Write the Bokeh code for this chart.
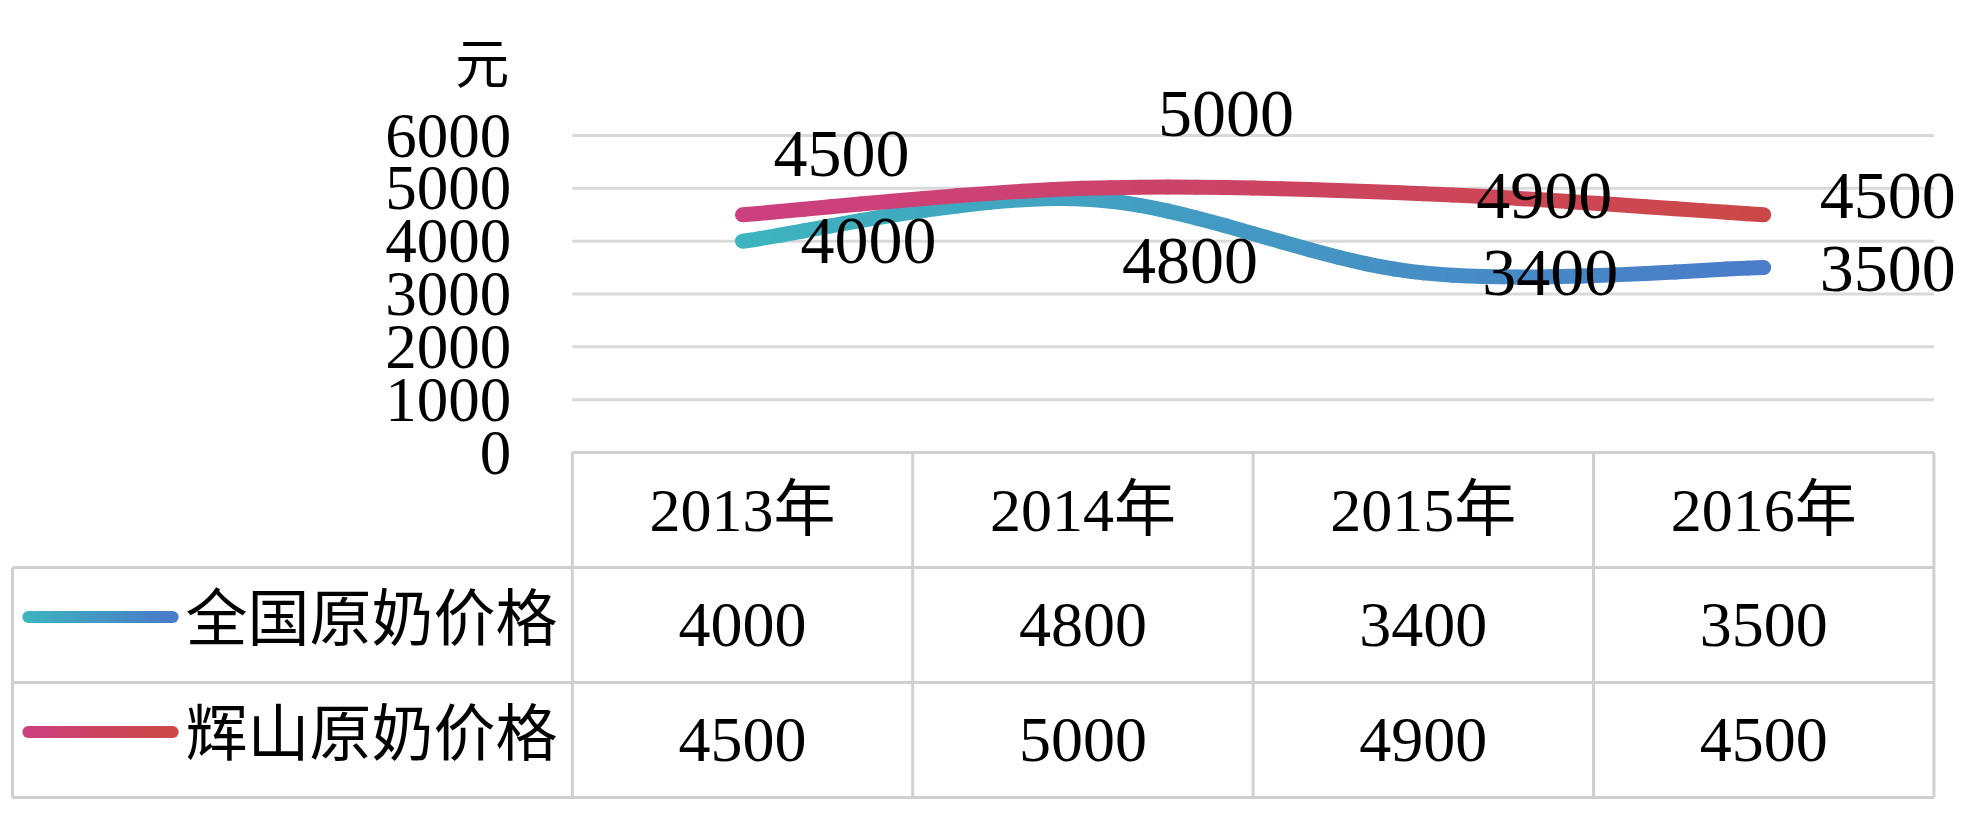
import numpy as np
from bokeh.plotting import figure
from bokeh.models import Range1d, FixedTicker, LinearAxis, ColumnDataSource
from bokeh.core.properties import value
from bokeh.embed import file_html
from bokeh.resources import INLINE

# ---------------- data ----------------
years = ["2013年", "2014年", "2015年", "2016年"]
series_names = ["全国原奶价格", "辉山原奶价格"]
national = [4000, 4800, 3400, 3500]
huishan = [4500, 5000, 4900, 4500]
y_ticks = [0, 1000, 2000, 3000, 4000, 5000, 6000]
unit_label = "元"

# ---------------- styles ----------------
FONT = "Liberation Serif, Noto Sans CJK SC"
grad_national = ("#3db4be", "#4a7cc8")
grad_huishan = ("#cc4080", "#cc4848")
GRID = "#d9d9d9"
BORDER = "#d0d0d0"

W, H = 1962, 810
x_idx = np.arange(len(years), dtype=float)


def lerp_color(c0, c1, t):
    a = [int(c0[i:i + 2], 16) for i in (1, 3, 5)]
    b = [int(c1[i:i + 2], 16) for i in (1, 3, 5)]
    return "#%02x%02x%02x" % tuple(int(round(a[k] + (b[k] - a[k]) * t)) for k in range(3))


def smooth_beziers(xs, ys, grad, n_sub=12):
    """Excel-like smoothed line: cubic Bezier per segment, subdivided for the colour gradient."""
    n = len(xs)
    P = np.column_stack([xs, ys]).astype(float)
    out = {k: [] for k in ("x0", "y0", "x1", "y1", "cx0", "cy0", "cx1", "cy1", "color")}
    xmin, xmax = xs[0], xs[-1]
    for i in range(n - 1):
        pm = P[max(i - 1, 0)]
        p0 = P[i]
        p1 = P[i + 1]
        pp = P[min(i + 2, n - 1)]
        c0 = p0 + (p1 - pm) / 6.0
        c1 = p1 - (pp - p0) / 6.0
        ctrl = [p0, c0, c1, p1]

        def blossom(a, b, c):
            l1 = [ctrl[j] * (1 - a) + ctrl[j + 1] * a for j in range(3)]
            l2 = [l1[j] * (1 - b) + l1[j + 1] * b for j in range(2)]
            return l2[0] * (1 - c) + l2[1] * c

        for k in range(n_sub):
            t0, t1 = k / n_sub, (k + 1) / n_sub
            q0 = blossom(t0, t0, t0)
            q1 = blossom(t0, t0, t1)
            q2 = blossom(t0, t1, t1)
            q3 = blossom(t1, t1, t1)
            out["x0"].append(q0[0]); out["y0"].append(q0[1])
            out["cx0"].append(q1[0]); out["cy0"].append(q1[1])
            out["cx1"].append(q2[0]); out["cy1"].append(q2[1])
            out["x1"].append(q3[0]); out["y1"].append(q3[1])
            xm = (q0[0] + q3[0]) / 2.0
            out["color"].append(lerp_color(grad[0], grad[1], (xm - xmin) / (xmax - xmin)))
    return out


# ---------------- figure ----------------
p = figure(width=W, height=H, output_backend="svg", toolbar_location=None,
           x_range=Range1d(-2.1798, 3.5840), y_range=Range1d(-6776, 8556),
           x_axis_location=None, y_axis_location=None,
           min_border_left=0, min_border_right=0, min_border_top=0, min_border_bottom=0)
p.outline_line_color = None
p.background_fill_color = "white"
p.border_fill_color = "white"
p.grid.visible = False
p.extra_y_ranges = {"table": Range1d(3.113, -3.930)}

# value axis placed at the plot area's left edge
yax = LinearAxis(ticker=FixedTicker(ticks=y_ticks), fixed_location=-0.5)
yax.axis_line_color = None
yax.major_tick_line_color = None
yax.minor_tick_line_color = None
yax.major_tick_out = 0
yax.major_tick_in = 0
yax.major_label_standoff = 61
yax.major_label_text_font = FONT
yax.major_label_text_font_size = "63px"
yax.major_label_text_color = "black"
p.add_layout(yax, "left")

# horizontal gridlines over the plot area only
n_t = len(y_ticks)
p.segment(x0=[-0.5] * n_t, y0=y_ticks, x1=[3.5] * n_t, y1=y_ticks,
          line_color=GRID, line_width=3)

# unit label
p.text(x=[-0.5], y=[y_ticks[-1]], text=[unit_label], x_offset=-63, y_offset=-70,
       text_align="right", text_baseline="middle",
       text_font=value(FONT), text_font_size="54px", text_color="black")

# smoothed lines
for vals, grad in ((national, grad_national), (huishan, grad_huishan)):
    bz = smooth_beziers(x_idx, vals, grad)
    p.bezier(x0="x0", y0="y0", x1="x1", y1="y1", cx0="cx0", cy0="cy0", cx1="cx1", cy1="cy1",
             source=ColumnDataSource(bz), line_color="color", line_width=15, line_cap="round")

# data labels (manual Excel placements, screen offsets: dx right, dy down)
off_national = [(126, 0), (107, 62), (127, 0), (124, 1)]
off_huishan = [(99, -61), (143, -74), (121, 2), (124, -19)]
for vals, offs in ((national, off_national), (huishan, off_huishan)):
    src = ColumnDataSource(dict(x=x_idx, y=vals, t=[str(v) for v in vals],
                                dx=[o[0] for o in offs], dy=[o[1] for o in offs]))
    p.text(x="x", y="y", text="t", source=src, x_offset="dx", y_offset="dy",
           text_align="center", text_baseline="middle",
           text_font=value(FONT), text_font_size="68px", text_color="black")

# ---------------- data table ----------------
x_left = -2.1445
hx0 = [-0.5, x_left, x_left, x_left]
hx1 = [3.5, 3.5, 3.5, 3.5]
hy = [0, 1, 2, 3]
p.segment(x0=hx0, y0=hy, x1=hx1, y1=hy, line_color=BORDER, line_width=3, y_range_name="table")
vx = [x_left, -0.5, 0.5, 1.5, 2.5, 3.5]
vy0 = [1, 0, 0, 0, 0, 0]
p.segment(x0=vx, y0=vy0, x1=vx, y1=[3] * len(vx), line_color=BORDER, line_width=3,
          y_range_name="table")

# header
p.text(x=x_idx, y=[0.5] * len(years), text=years, text_align="center", text_baseline="middle",
       text_font=value(FONT), text_font_size="62px", text_color="black", y_range_name="table")

# rows
for r, (name, vals, grad) in enumerate(((series_names[0], national, grad_national),
                                        (series_names[1], huishan, grad_huishan))):
    yc = 1.5 + r
    p.text(x=x_idx, y=[yc] * len(vals), text=[str(v) for v in vals], text_align="center",
           text_baseline="middle", text_font=value(FONT), text_font_size="64px",
           text_color="black", y_range_name="table")
    # legend key line with gradient
    lx0, lx1 = -2.098, -1.674
    nseg = 20
    xs = np.linspace(lx0, lx1, nseg + 1)
    cols = [lerp_color(grad[0], grad[1], (k + 0.5) / nseg) for k in range(nseg)]
    p.segment(x0=xs[:-1], y0=[yc - 0.07] * nseg, x1=xs[1:], y1=[yc - 0.07] * nseg,
              line_color=cols, line_width=12, line_cap="round", y_range_name="table")
    p.text(x=[-1.636], y=[yc - 0.04], text=[name], text_align="left", text_baseline="middle",
           text_font=value(FONT), text_font_size="62px", text_color="black", y_range_name="table")

open("out.html", "w").write(file_html(p, INLINE))
